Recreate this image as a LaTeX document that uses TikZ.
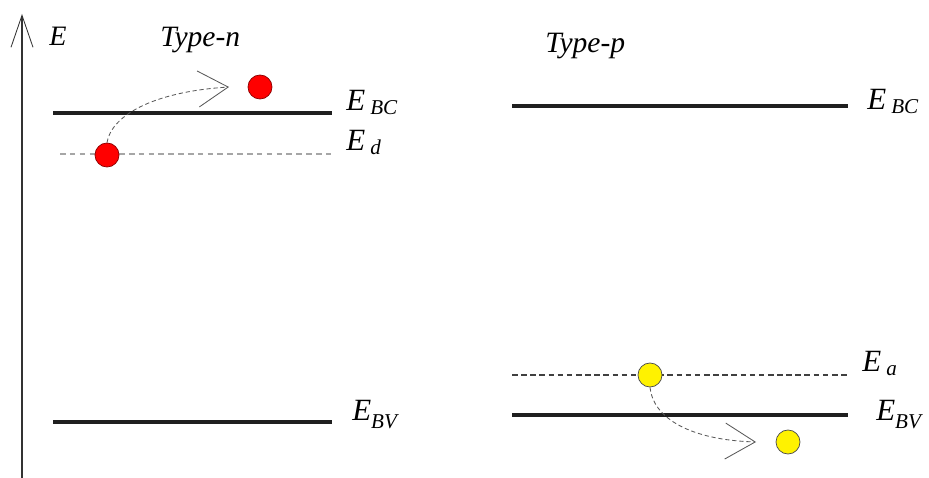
\documentclass[tikz,border=0pt]{standalone}
\usepackage{fontspec}
\setmainfont{Liberation Serif}
\usetikzlibrary{arrows.meta,positioning}
\tikzset{
    bandline/.style={line width=2.6pt,draw=black!88},
    donorline/.style={line width=0.8pt,draw=black!35,dash pattern=on 4pt off 3pt},
    acceptorline/.style={line width=0.8pt,draw=black!75,dash pattern=on 4pt off 2.5pt},
    electron/.style={circle,fill=red,draw=red!55!black,line width=0.5pt,inner sep=0pt,minimum size=0.6cm},
    hole/.style={circle,fill=yellow,draw=black!70,line width=0.5pt,inner sep=0pt,minimum size=0.6cm},
    jump/.style={draw=black!65,line width=0.6pt,dash pattern=on 3pt off 2pt,
        -{Straight Barb[length=0.75cm,width=0.9cm,line width=0.6pt]}},
    lvl/.style={anchor=base west,inner sep=0pt,font=\fontsize{22}{24}\selectfont\itshape},
    every node/.style={font=\fontsize{22}{24}\selectfont}
}
\newcommand{\bandsub}[2][-0.25ex]{\raisebox{#1}{\fontsize{15}{16}\selectfont #2}}

\begin{document}
\begin{tikzpicture}[x=0.025cm,y=-0.025cm]
    \useasboundingbox (0,0) rectangle (929,478);
    % axe de l'energie
    \coordinate (Ebot) at (22,478);
    \coordinate (Etop) at (22,14);
    \draw[black!80,line width=0.9pt,-{Straight Barb[length=0.8cm,width=0.55cm,line width=0.6pt]}] (Ebot)--(Etop);
    \node[lvl,font=\fontsize{20}{22}\selectfont\itshape] (Elab) at (49,46) {E};
    % type n
    \node[lvl,font=\fontsize{21}{23}\selectfont\itshape] (typen) at (160,47) {Type-n};
    \coordinate (bcnL) at (53,113);  \coordinate (bcnR) at (332,113);
    \coordinate (ednL) at (60,154);  \coordinate (ednR) at (332,154);
    \coordinate (bvnL) at (53,422);  \coordinate (bvnR) at (332,422);
    \draw[bandline] (bcnL)--(bcnR);
    \draw[donorline] (ednL)--(ednR);
    \draw[bandline] (bvnL)--(bvnR);
    \node[lvl] (bcn) at (346,111) {E\,\bandsub{BC}};
    \node[lvl] (edn) at (346,151) {E\,\bandsub{d}};
    \node[lvl] (bvn) at (352,421) {E\bandsub[-0.55ex]{BV}};
    \node[electron] (don) at (107,155) {};
    \node[electron] (free) at (260,87) {};
    \coordinate (tipn) at (229,87);
    \draw[jump] (don.north) .. controls (111,117) and (150,92) .. (tipn);
    % type p
    \node[lvl,font=\fontsize{21}{23}\selectfont\itshape] (typep) at (545,53) {Type-p};
    \coordinate (bcpL) at (512,106); \coordinate (bcpR) at (848,106);
    \coordinate (eapL) at (512,375); \coordinate (eapR) at (848,375);
    \coordinate (bvpL) at (512,415); \coordinate (bvpR) at (848,415);
    \draw[bandline] (bcpL)--(bcpR);
    \draw[acceptorline] (eapL)--(eapR);
    \draw[bandline] (bvpL)--(bvpR);
    \node[lvl] (bcp) at (867,110) {E\,\bandsub{BC}};
    \node[lvl] (eap) at (862,372) {E\,\bandsub{a}};
    \node[lvl] (bvp) at (876,421) {E\bandsub[-0.55ex]{BV}};
    \node[hole] (acc) at (650,375) {};
    \node[hole] (vac) at (788,442) {};
    \coordinate (tipp) at (756,442);
    \draw[jump] (acc.south) .. controls (653,418) and (690,440) .. (tipp);
\end{tikzpicture}
\end{document}
